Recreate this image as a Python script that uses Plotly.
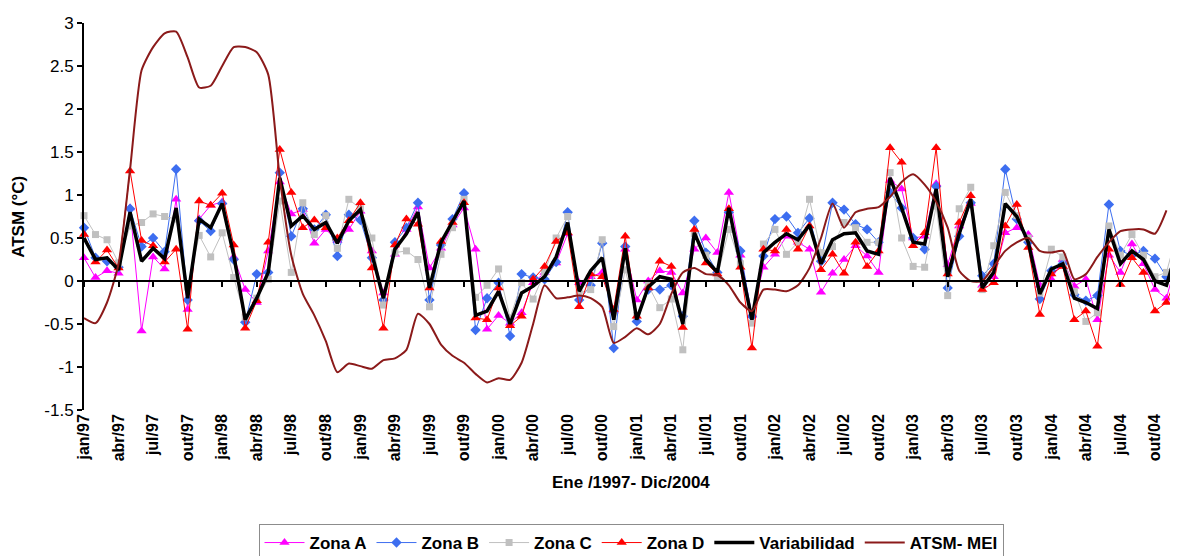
import plotly.graph_objects as go

# months jan/97 .. dez/04, tick label every 3 months
months = list(range(96))
tick_pos = list(range(0, 96, 3))
tick_labels = [f"{m}/{y:02d}" for y in [97, 98, 99, 0, 1, 2, 3, 4] for m in ["jan", "abr", "jul", "out"]]

y_ticks = [3, 2.5, 2, 1.5, 1, 0.5, 0, -0.5, -1, -1.5]
y_tick_text = ["3", "2.5", "2", "1.5", "1", "0.5", "0", "-0.5", "-1", "-1.5"]

zona_a = [0.27, 0.04, 0.12, 0.09, 0.85, -0.58, 0.28, 0.14, 0.95, -0.33, 0.72, 0.88,
          0.92, 0.28, -0.10, -0.25, 0.35, 1.15, 0.78, 0.83, 0.44, 0.60, 0.47, 0.60,
          0.81, 0.35, -0.14, 0.31, 0.60, 0.86, 0.15, 0.38, 0.65, 0.85, 0.37, -0.56,
          -0.40, -0.49, -0.37, -0.02, 0.10, 0.21, 0.55, -0.02, 0.05, 0.10, -0.35, 0.37,
          -0.22, 0.00, 0.12, 0.10, -0.14, 0.37, 0.50, 0.33, 1.03, 0.30, -0.40, 0.16,
          0.31, 0.52, 0.45, 0.37, -0.13, 0.09, 0.25, 0.41, 0.29, 0.10, 1.17, 1.07,
          0.50, 0.52, 1.13, 0.19, 0.64, 0.90, -0.05, 0.05, 0.56, 0.62, 0.54, -0.05,
          0.02, 0.25, -0.06, 0.02, -0.45, 0.30, 0.10, 0.43, 0.20, -0.10, -0.20, 0.30]

zona_b = [0.62, 0.27, 0.23, 0.16, 0.84, 0.40, 0.50, 0.34, 1.30, -0.22, 0.70, 0.58,
          0.90, 0.25, -0.48, 0.08, 0.10, 1.26, 0.52, 0.84, 0.60, 0.77, 0.29, 0.77,
          0.71, 0.27, -0.22, 0.45, 0.62, 0.91, -0.22, 0.42, 0.72, 1.02, -0.57, -0.20,
          -0.02, -0.64, 0.08, 0.04, 0.02, 0.22, 0.80, -0.22, -0.05, 0.44, -0.78, 0.40,
          -0.47, -0.10, -0.10, -0.05, -0.41, 0.70, 0.33, 0.10, 0.80, 0.35, -0.41, 0.29,
          0.72, 0.75, 0.56, 0.73, 0.23, 0.91, 0.83, 0.66, 0.60, 0.45, 1.03, 0.85,
          0.50, 0.37, 1.10, -0.08, 0.52, 0.91, 0.06, 0.20, 1.30, 0.72, 0.45, -0.21,
          0.12, 0.20, -0.16, -0.23, -0.17, 0.89, 0.35, 0.30, 0.35, 0.26, 0.05, 0.35]

zona_c = [0.76, 0.54, 0.48, 0.21, 0.64, 0.68, 0.78, 0.75, 0.72, -0.07, 0.53, 0.28,
          0.56, 0.04, -0.42, -0.20, 0.02, 0.93, 0.10, 0.91, 0.54, 0.76, 0.38, 0.95,
          0.84, 0.50, -0.28, 0.33, 0.35, 0.25, -0.30, 0.31, 0.62, 0.95, -0.19, -0.05,
          0.14, -0.43, -0.02, -0.21, 0.10, 0.50, 0.75, -0.14, -0.10, 0.48, -0.53, 0.13,
          -0.40, -0.05, -0.31, -0.21, -0.80, 0.55, 0.30, 0.05, 0.60, 0.20, -0.49, 0.43,
          0.60, 0.31, 0.45, 0.95, 0.33, 0.40, 0.68, 0.62, 0.45, 0.45, 1.26, 0.50,
          0.17, 0.16, 0.87, -0.17, 0.84, 1.09, -0.10, 0.41, 1.03, 0.76, 0.50, -0.14,
          0.37, 0.28, -0.12, -0.47, -0.37, 0.64, 0.30, 0.54, 0.30, 0.05, 0.10, 0.60]

zona_d = [0.54, 0.22, 0.36, 0.15, 1.28, 0.47, 0.41, 0.22, 0.37, -0.56, 0.93, 0.88,
          1.02, 0.42, -0.55, -0.23, 0.45, 1.53, 1.03, 0.62, 0.71, 0.62, 0.50, 0.70,
          0.91, 0.15, -0.55, 0.42, 0.72, 0.66, -0.08, 0.46, 0.68, 0.91, -0.43, -0.45,
          -0.08, -0.52, -0.41, 0.02, 0.17, 0.46, 0.56, -0.30, 0.08, 0.05, -0.33, 0.52,
          -0.41, -0.08, 0.23, 0.17, -0.54, 0.60, 0.21, 0.08, 0.84, 0.16, -0.78, 0.37,
          0.35, 0.60, 0.37, 0.64, 0.13, 0.31, 0.09, 0.45, 0.17, 0.35, 1.55, 1.38,
          0.41, 0.56, 1.55, 0.08, 0.68, 0.99, -0.10, -0.02, 0.64, 0.89, 0.39, -0.39,
          0.08, 0.17, -0.45, -0.35, -0.76, 0.37, -0.04, 0.27, 0.10, -0.35, -0.25, 0.10]

variabilidad = [0.50, 0.25, 0.27, 0.13, 0.80, 0.23, 0.38, 0.26, 0.85, -0.20, 0.72, 0.62,
                0.90, 0.30, -0.45, -0.20, 0.10, 1.20, 0.64, 0.76, 0.60, 0.68, 0.44, 0.70,
                0.83, 0.30, -0.20, 0.37, 0.55, 0.80, -0.08, 0.45, 0.70, 0.93, -0.40, -0.35,
                -0.12, -0.50, -0.14, -0.06, 0.05, 0.28, 0.68, -0.12, 0.12, 0.27, -0.45, 0.38,
                -0.45, -0.07, 0.05, 0.02, -0.50, 0.56, 0.25, 0.10, 0.85, 0.20, -0.45, 0.33,
                0.45, 0.55, 0.48, 0.65, 0.20, 0.48, 0.55, 0.56, 0.35, 0.31, 1.20, 0.85,
                0.45, 0.43, 1.07, 0.05, 0.55, 0.95, -0.08, 0.10, 0.90, 0.75, 0.45, -0.15,
                0.14, 0.20, -0.20, -0.25, -0.32, 0.60, 0.20, 0.35, 0.25, 0.00, -0.05, 0.40]

atsm_mei = [-0.43, -0.49, -0.25, 0.20, 1.30, 2.45, 2.72, 2.88, 2.90, 2.60, 2.25, 2.27,
            2.50, 2.72, 2.72, 2.66, 2.40, 1.20, 0.30, -0.15, -0.40, -0.70, -1.06, -0.96,
            -0.99, -1.02, -0.92, -0.90, -0.80, -0.38, -0.50, -0.74, -0.87, -0.95, -1.08, -1.18,
            -1.13, -1.15, -0.95, -0.50, -0.05, -0.20, -0.19, -0.17, -0.20, -0.30, -0.72, -0.65,
            -0.55, -0.62, -0.50, -0.15, 0.10, 0.15, 0.08, 0.07, -0.05, -0.25, -0.35, -0.10,
            -0.10, -0.12, -0.05, 0.15, 0.50, 0.90, 0.62, 0.80, 0.84, 0.86, 0.98, 1.15,
            1.24, 1.12, 0.92, 0.62, 0.12, 0.00, 0.00, 0.17, 0.35, 0.45, 0.50, 0.35,
            0.33, 0.35, 0.02, 0.08, 0.28, 0.45, 0.58, 0.60, 0.60, 0.55, 0.82, None]

FONT = "Arial, Liberation Sans, sans-serif"

# the page body adds an 8px offset, so the figure is 8px smaller than the window
FIG_W, FIG_H = 1170, 548


def zona_trace(name, values, color, symbol, size):
    return go.Scatter(
        x=months, y=values, name=name, mode="lines+markers",
        line=dict(color=color, width=1),
        marker=dict(symbol=symbol, size=size, color=color),
        cliponaxis=False,
    )


fig = go.Figure()
fig.add_trace(zona_trace("Zona A", zona_a, "#ff00ff", "triangle-up", 9))
fig.add_trace(zona_trace("Zona B", zona_b, "#3d6ef0", "diamond", 8))
fig.add_trace(zona_trace("Zona C", zona_c, "#c0c0c0", "square", 7))
fig.add_trace(zona_trace("Zona D", zona_d, "#ff0000", "triangle-up", 9))
fig.add_trace(go.Scatter(x=months, y=variabilidad, name="Variabilidad", mode="lines",
                         line=dict(color="#000000", width=3.5)))
fig.add_trace(go.Scatter(x=months, y=atsm_mei, name="ATSM- MEI", mode="lines",
                         line=dict(color="#8b1a1a", width=2, shape="spline", smoothing=0.6)))

# empty trace so the zero-crossing category axis gets drawn
fig.add_trace(go.Scatter(x=[None], y=[None], xaxis="x2", showlegend=False, hoverinfo="skip"))

fig.update_layout(
    width=FIG_W, height=FIG_H,
    margin=dict(l=76, r=0, t=15, b=146, autoexpand=False),
    paper_bgcolor="white", plot_bgcolor="white",
    font=dict(family=FONT, color="#000000"),
    showlegend=True,
    xaxis=dict(
        range=[0, 95], showgrid=False, zeroline=False, showline=False, automargin=False,
        tickvals=tick_pos, ticktext=tick_labels, tickangle=-90, ticks="",
        tickfont=dict(size=16, weight="bold"),
    ),
    xaxis2=dict(
        overlaying="x", matches="x", anchor="free", position=1.5 / 4.5, automargin=False,
        showline=True, linecolor="#000000", linewidth=2,
        tickvals=tick_pos, ticks="outside", ticklen=5, tickwidth=1.5, tickcolor="#000000",
        showticklabels=False, showgrid=False, zeroline=False,
    ),
    yaxis=dict(
        range=[-1.5, 3], tickvals=y_ticks, ticktext=y_tick_text, automargin=False,
        showgrid=False, zeroline=False,
        showline=True, linecolor="#000000", linewidth=2,
        ticks="outside", ticklen=5, tickwidth=1.5, tickcolor="#000000",
        tickfont=dict(size=17),
    ),
    legend=dict(
        orientation="h", x=0.5, xanchor="center",
        yref="container", y=1 - 516 / FIG_H, yanchor="top",
        bordercolor="#8c8c8c", borderwidth=1,
        font=dict(size=17, weight="bold"),
        itemwidth=40, tracegroupgap=0,
    ),
    annotations=[
        dict(text="ATSM (°C)", x=-0.06, y=0.5, xref="paper", yref="paper", xanchor="center",
             textangle=-90, showarrow=False, font=dict(size=17, weight="bold")),
        dict(text="Ene /1997- Dic/2004", x=0.5, y=-0.217, xref="paper", yref="paper",
             showarrow=False, font=dict(size=17, weight="bold")),
    ],
)

fig.write_html("out.html")
